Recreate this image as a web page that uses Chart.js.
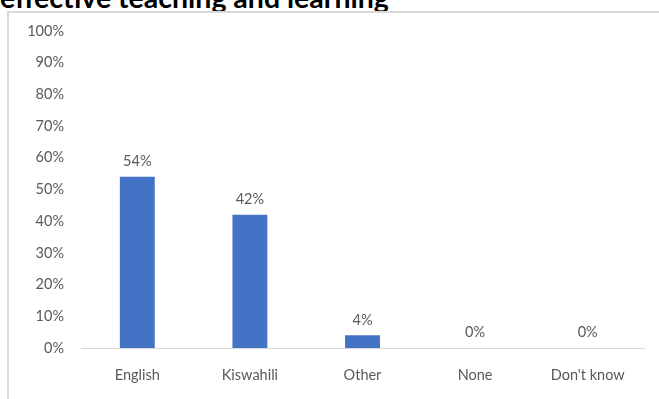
<!DOCTYPE html>
<html>
<head>
<meta charset="utf-8">
<script src="https://cdn.jsdelivr.net/npm/chart.js@4"></script>
<style>
  body { margin: 0; background: #fff; overflow: hidden; }
  #wrap { position: relative; width: 659px; height: 399px; }
  #title { position: absolute; left: 0px; top: -20px; font: bold 28.5px Lato, "Open Sans", sans-serif; color: #000; white-space: nowrap; }
  #frame { position: absolute; left: 7px; top: 11px; width: 660px; height: 400px; border-left: 2px solid #d9d9d9; border-top: 2px solid #d9d9d9; }
  canvas { position: absolute; left: 0; top: 0; }
</style>
</head>
<body>
<div id="wrap">
  <div id="title">effective teaching and learning</div>
  <div id="frame"></div>
  <canvas id="chart" width="659" height="399"></canvas>
</div>
<script>
// categories and shares
var languages = ['English', 'Kiswahili', 'Other', 'None', "Don't know"];
var shares = [0.54, 0.42, 0.04, 0, 0];
var shareLabels = ['54%', '42%', '4%', '0%', '0%'];

/*
    Writes the value label above every bar
*/
var valueLabels = {
    id: 'valueLabels',
    afterDatasetsDraw: function(chart)
    {
        var ctx = chart.ctx;
        var bars = chart.getDatasetMeta(0).data;
        ctx.save();
        ctx.font = '14.5px Lato, "Open Sans", sans-serif';
        ctx.fillStyle = '#595959';
        ctx.textAlign = 'center';
        ctx.textBaseline = 'bottom';
        for (var i = 0; i < bars.length; i++)
        {
            ctx.fillText(shareLabels[i], bars[i].x, bars[i].y - 8);
        }
        ctx.restore();
    }
};

new Chart(document.getElementById('chart'), {
    type: 'bar',
    data: {
        labels: languages,
        datasets: [{
            data: shares,
            backgroundColor: '#4472c4',
            categoryPercentage: 1,
            barPercentage: 0.31
        }]
    },
    options: {
        responsive: false,
        animation: false,
        layout: { padding: { top: 31, right: 15, left: 0, bottom: 0 } },
        plugins: { legend: { display: false }, tooltip: { enabled: false } },
        scales: {
            x: {
                grid: { display: false, drawTicks: false },
                border: { display: true, color: '#d9d9d9', width: 1 },
                ticks: { color: '#595959', font: { family: 'Lato', size: 14.5 }, padding: 19 },
                afterFit: function(scale) { scale.height = 51; }
            },
            y: {
                min: 0,
                max: 1,
                grid: { display: false, drawTicks: false },
                border: { display: false },
                ticks: {
                    stepSize: 0.1,
                    color: '#595959',
                    font: { family: 'Lato', size: 14.5 },
                    padding: 17,
                    callback: function(v) { return Math.round(v * 100) + '%'; }
                },
                afterFit: function(scale) { scale.width = 81; }
            }
        }
    },
    plugins: [valueLabels]
});
</script>
</body>
</html>
